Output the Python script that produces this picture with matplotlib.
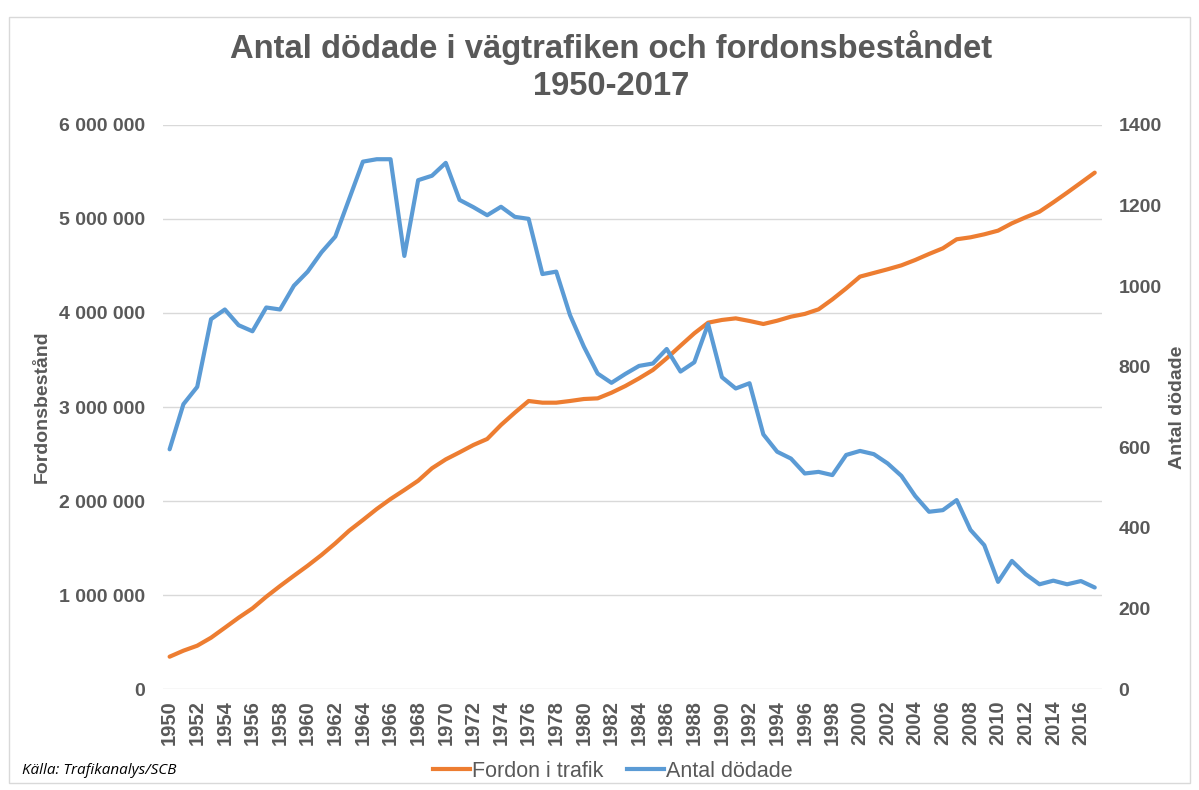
import matplotlib.pyplot as plt
from matplotlib.patches import Rectangle
from matplotlib.ticker import FuncFormatter, MultipleLocator

# data
years = list(range(1950, 2018))
fordon = [344, 408, 461, 546, 652, 759, 858, 982, 1096, 1205,
          1312, 1426, 1550, 1684, 1798, 1915, 2021, 2117, 2216, 2348,
          2443, 2518, 2596, 2660, 2809, 2940, 3064, 3046, 3046, 3064,
          3085, 3092, 3152, 3223, 3305, 3394, 3518, 3652, 3784, 3897,
          3926, 3943, 3915, 3883, 3918, 3961, 3990, 4039, 4145, 4262,
          4387, 4426, 4465, 4507, 4564, 4628, 4688, 4784, 4805, 4837,
          4876, 4954, 5018, 5078, 5177, 5280, 5386, 5493]
fordon = [v * 1000 for v in fordon]
dodade = [595, 707, 750, 918, 942, 903, 888, 947, 942, 1001,
          1036, 1084, 1123, 1216, 1309, 1315, 1315, 1075, 1263, 1274,
          1306, 1214, 1196, 1176, 1197, 1172, 1167, 1030, 1036, 928,
          850, 783, 760, 782, 802, 808, 844, 788, 811, 906,
          774, 746, 759, 632, 589, 572, 535, 539, 531, 581,
          591, 583, 560, 529, 479, 440, 444, 469, 395, 357,
          266, 318, 285, 260, 269, 260, 268, 252]

GRAY = '#595959'
ORANGE = '#ED7D31'
BLUE = '#5B9BD5'

plt.rcParams['font.family'] = ['Liberation Sans', 'DejaVu Sans']

fig = plt.figure(figsize=(11.99, 7.9), dpi=100)
ax = fig.add_axes([0.1357, 0.1278, 0.9188 - 0.1357, 0.8418 - 0.1278])
ax2 = ax.twinx()

ax.plot(years, fordon, color=ORANGE, linewidth=3, solid_capstyle='round')
ax2.plot(years, dodade, color=BLUE, linewidth=3, solid_capstyle='round')

ax.set_xlim(1949.5, 2017.5)
ax.set_ylim(0, 6000000)
ax2.set_ylim(0, 1400)
ax.yaxis.set_major_locator(MultipleLocator(1000000))
ax2.yaxis.set_major_locator(MultipleLocator(200))
ax.yaxis.set_major_formatter(FuncFormatter(lambda v, p: f"{int(v):,}".replace(",", " ")))
ax.set_xticks(years[::2])
ax.set_xticklabels([str(y) for y in years[::2]], rotation=90)

ax.grid(axis='y', color='#D9D9D9', linewidth=1)
ax.set_axisbelow(True)
for a in (ax, ax2):
    for s in a.spines.values():
        s.set_visible(False)
ax.tick_params(axis='y', length=0, pad=13, labelsize=14, labelcolor=GRAY)
ax.tick_params(axis='x', length=0, pad=8, labelsize=14.5, labelcolor=GRAY)
ax2.tick_params(axis='y', length=0, pad=12, labelsize=14, labelcolor=GRAY)
for lab in ax.get_xticklabels() + ax.get_yticklabels() + ax2.get_yticklabels():
    lab.set_fontweight('bold')

fig.text(0.5096, 0.940, 'Antal dödade i vägtrafiken och fordonsbeståndet',
         ha='center', va='center', fontsize=23.6, fontweight='bold', color=GRAY)
fig.text(0.5096, 0.891, '1950-2017', ha='center', va='center',
         fontsize=23.6, fontweight='bold', color=GRAY)
fig.text(42 / 1199, 0.485, 'Fordonsbestånd', rotation=90, ha='center', va='center',
         fontsize=14, fontweight='bold', color=GRAY)
fig.text(1178 / 1199, 0.485, 'Antal dödade', rotation=90, ha='center', va='center',
         fontsize=14, fontweight='bold', color=GRAY)
fig.text(22 / 1199, 0.025, 'Källa: Trafikanalys/SCB', ha='left', va='center',
         fontsize=11, style='italic', color='black', family='Open Sans')

handles = [plt.Line2D([], [], color=ORANGE, linewidth=3),
           plt.Line2D([], [], color=BLUE, linewidth=3)]
fig.legend(handles, ['Fordon i trafik', 'Antal dödade'], loc='center',
           bbox_to_anchor=(0.511, 0.024), ncol=2, frameon=False, fontsize=15.5,
           handlelength=1.7, handletextpad=0.1, columnspacing=1.1, labelcolor=GRAY)

fig.patches.append(Rectangle((9 / 1199, 7 / 790), 1181 / 1199, 766 / 790,
                             transform=fig.transFigure, fill=False,
                             edgecolor='#D9D9D9', linewidth=1))

plt.savefig('out.png', dpi=100)
